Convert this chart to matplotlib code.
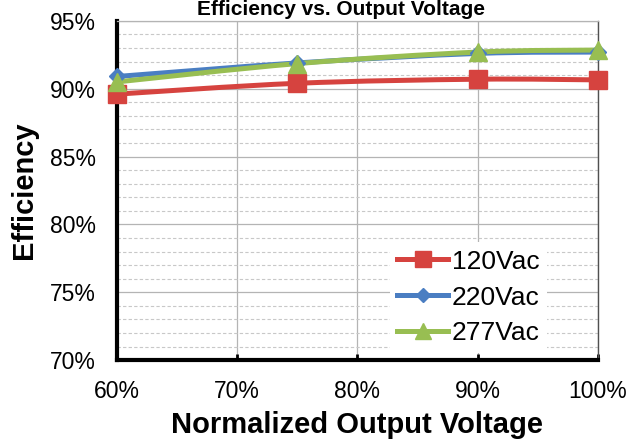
import numpy as np
import matplotlib
matplotlib.use('Agg')
import matplotlib.pyplot as plt
from matplotlib.path import Path
from matplotlib.patches import PathPatch
from matplotlib.ticker import MultipleLocator, FuncFormatter

plt.rcParams['font.family'] = ['Liberation Sans', 'DejaVu Sans']

# data
voltage = [0.60, 0.75, 0.90, 1.00]
eff_120 = [0.896, 0.904, 0.907, 0.9065]
eff_220 = [0.909, 0.919, 0.926, 0.927]
eff_277 = [0.905, 0.9185, 0.927, 0.9285]
labels = ['120Vac', '220Vac', '277Vac']
colors = ['#D6433F', '#4A7EC2', '#98BE52']
markers = ['s', 'D', '^']
msizes = [13, 8, 13]


def smooth_path(x, y, t=0.5):
    # Excel-like smoothed line (cardinal spline as Bezier segments)
    x = np.asarray(x, float)
    y = np.asarray(y, float)
    verts = [(x[0], y[0])]
    codes = [Path.MOVETO]
    n = len(x)
    for i in range(n - 1):
        x0, y0 = (x[i - 1], y[i - 1]) if i > 0 else (x[i], y[i])
        x3, y3 = (x[i + 2], y[i + 2]) if i + 2 < n else (x[i + 1], y[i + 1])
        c1 = (x[i] + (x[i + 1] - x0) * t / 3, y[i] + (y[i + 1] - y0) * t / 3)
        c2 = (x[i + 1] - (x3 - x[i]) * t / 3, y[i + 1] - (y3 - y[i]) * t / 3)
        verts += [c1, c2, (x[i + 1], y[i + 1])]
        codes += [Path.CURVE4] * 3
    return Path(verts, codes)


fig = plt.figure(figsize=(6.32, 4.44), dpi=100)
ax = fig.add_axes([0.185, 0.189, 0.761, 0.764])

for ys, lab, c, m, ms in zip([eff_120, eff_220, eff_277], labels, colors, markers, msizes):
    ax.add_patch(PathPatch(smooth_path(voltage, ys), facecolor='none', edgecolor=c, lw=3.6,
                           zorder=3, clip_on=False))
    ax.plot(voltage, ys, linestyle='none', marker=m, markersize=ms, color=c, zorder=4, clip_on=False)
    ax.plot([], [], color=c, lw=3.6, marker=m, markersize=ms * 0.85, label=lab)

ax.set_xlim(0.6, 1.0)
ax.set_ylim(0.70, 0.95)
ax.xaxis.set_major_locator(MultipleLocator(0.1))
ax.yaxis.set_major_locator(MultipleLocator(0.05))
ax.yaxis.set_minor_locator(MultipleLocator(0.01))
pct = FuncFormatter(lambda v, p: f"{v * 100:.0f}%")
ax.xaxis.set_major_formatter(pct)
ax.yaxis.set_major_formatter(pct)

ax.grid(True, which='major', color='#B4B4B4', lw=0.9)
ax.grid(True, which='minor', axis='y', color='#C8C8C8', lw=0.8, linestyle=(0, (3, 2)))
ax.set_axisbelow(True)

ax.tick_params(axis='both', which='major', labelsize=16.5, direction='in')
ax.tick_params(axis='x', length=4, width=2, pad=14)
ax.tick_params(axis='y', length=0, pad=15)
ax.tick_params(axis='y', which='minor', length=0)

ax.spines['left'].set_linewidth(3)
ax.spines['bottom'].set_linewidth(3)
ax.spines['right'].set_color('#505050')
ax.spines['right'].set_linewidth(1.0)
ax.spines['top'].set_color('#B4B4B4')
ax.spines['top'].set_linewidth(0.9)

ax.set_xlabel('Normalized Output Voltage', fontsize=21, fontweight='bold')
ax.set_ylabel('Efficiency', fontsize=21, fontweight='bold')
ax.xaxis.set_label_coords(0.5, -0.192)
ax.xaxis.label.set_va('center')
ax.yaxis.set_label_coords(-0.193, 0.5)
ax.yaxis.label.set_va('center')
fig.text(0.54, 0.999, 'Efficiency vs. Output Voltage', fontsize=15, fontweight='bold',
         ha='center', va='top')

leg = ax.legend(loc='lower right', bbox_to_anchor=(0.895, 0.02), fontsize=19, frameon=True,
                framealpha=1, edgecolor='none', handlelength=1.9, handletextpad=0.15,
                labelspacing=0.45, borderpad=0.3, borderaxespad=0)
leg.get_frame().set_boxstyle('square', pad=0)

fig.savefig('out.png', dpi=100)
